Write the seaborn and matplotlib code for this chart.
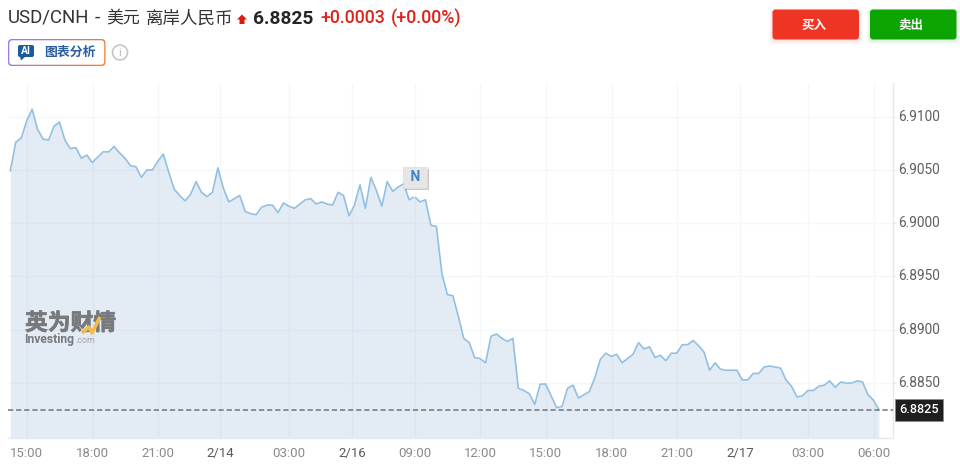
# USD/CNH intraday area chart with the page header around it
import numpy as np
import pandas as pd
import seaborn as sns
import matplotlib
matplotlib.use('Agg')
import matplotlib.pyplot as plt
import matplotlib.patheffects as pe
from matplotlib.patches import FancyBboxPatch, Circle, Polygon
from matplotlib.transforms import ScaledTranslation

# Prices
prices = [
    6.9049, 6.9076, 6.9080, 6.9096, 6.9107, 6.9088, 6.9079, 6.9078, 6.9091, 6.9095,
    6.9078, 6.9070, 6.9071, 6.9061, 6.9064, 6.9057, 6.9062, 6.9067, 6.9067, 6.9072,
    6.9066, 6.9061, 6.9054, 6.9053, 6.9043, 6.9050, 6.9050, 6.9058, 6.9065, 6.9048,
    6.9032, 6.9026, 6.9021, 6.9027, 6.9039, 6.9029, 6.9025, 6.9029, 6.9052, 6.9033,
    6.9020, 6.9023, 6.9026, 6.9011, 6.9009, 6.9008, 6.9015, 6.9017, 6.9017, 6.9010,
    6.9019, 6.9016, 6.9014, 6.9018, 6.9022, 6.9023, 6.9018, 6.9020, 6.9018, 6.9017,
    6.9029, 6.9026, 6.9007, 6.9017, 6.9036, 6.9014, 6.9043, 6.9031, 6.9016, 6.9039,
    6.9030, 6.9034, 6.9037, 6.9022, 6.9025, 6.9020, 6.9022, 6.8998, 6.8997, 6.8953,
    6.8933, 6.8932, 6.8913, 6.8892, 6.8888, 6.8874, 6.8873, 6.8869, 6.8894, 6.8896,
    6.8892, 6.8889, 6.8892, 6.8845, 6.8843, 6.8840, 6.8830, 6.8849, 6.8849, 6.8838,
    6.8827, 6.8828, 6.8845, 6.8848, 6.8836, 6.8839, 6.8842, 6.8855, 6.8872, 6.8878,
    6.8875, 6.8877, 6.8869, 6.8873, 6.8877, 6.8888, 6.8882, 6.8884, 6.8874, 6.8876,
    6.8871, 6.8878, 6.8878, 6.8886, 6.8886, 6.8890, 6.8885, 6.8879, 6.8862, 6.8869,
    6.8863, 6.8862, 6.8862, 6.8862, 6.8853, 6.8853, 6.8859, 6.8859, 6.8865, 6.8866,
    6.8865, 6.8864, 6.8853, 6.8847, 6.8837, 6.8838, 6.8843, 6.8843, 6.8847, 6.8848,
    6.8852, 6.8846, 6.8851, 6.8850, 6.8850, 6.8852, 6.8851, 6.8839, 6.8834, 6.8825,
]
x_ticks = [3.0, 15.08, 26.98, 38.39, 51.07, 62.6, 74.14, 86.0, 98.06, 110.14, 121.98, 133.57, 146.02, 158.1]
x_labels = ['15:00', '18:00', '21:00', '2/14', '03:00', '2/16', '09:00', '12:00',
            '15:00', '18:00', '21:00', '2/17', '03:00', '06:00']
date_labels = ['2/14', '2/16', '2/17']
y_ticks = [6.8850, 6.8900, 6.8950, 6.9000, 6.9050, 6.9100]
last_price = 6.8825
news_index = 74

df = pd.DataFrame({'i': np.arange(len(prices)), 'price': prices})

sns.set_theme(style='white')
plt.rcParams['font.family'] = ['Roboto', 'Noto Sans CJK SC', 'DejaVu Sans']

W, H = 960, 471
fig = plt.figure(figsize=(W / 100, H / 100), dpi=100, facecolor='white')

# Main chart
ax = fig.add_axes([8 / W, (H - 437.7) / H, 885 / W, (437.7 - 83) / H])
sns.lineplot(data=df, x='i', y='price', color='#93c0e0', linewidth=1.2, ax=ax, zorder=3)
ax.fill_between(df['i'], df['price'], 6.87, color=(68 / 255, 128 / 255, 182 / 255), alpha=0.15, lw=0, zorder=2)
ax.set_xlim(-0.42, 161.58)
ax.set_ylim(6.87987, 6.91316)
ax.set_xlabel('')
ax.set_ylabel('')

ax.set_xticks(x_ticks)
ax.set_xticklabels(x_labels)
ax.set_yticks(y_ticks)
ax.set_yticklabels([f'{v:.4f}' for v in y_ticks])
ax.yaxis.tick_right()
ax.grid(True, color='#f6f7f9', linewidth=1, zorder=1)
ax.tick_params(axis='x', length=0, pad=7, labelsize=9.5, labelcolor='#8a8a8a')
ax.tick_params(axis='y', length=2.5, width=0.8, color='#e6e8f0', pad=1.4, labelsize=9.9, labelcolor='#5f5f5f')
for lab in ax.get_xticklabels():
    if lab.get_text() in date_labels:
        lab.set_color('#5a5a5a')
lift = ScaledTranslation(0, 1.5 / 100, fig.dpi_scale_trans)
for lab in ax.get_yticklabels():
    lab.set_transform(lab.get_transform() + lift)

for side in ['top', 'left']:
    ax.spines[side].set_visible(False)
for side in ['right', 'bottom']:
    ax.spines[side].set_color('#e6e8f0')
    ax.spines[side].set_linewidth(1)

# Current price line and tag
ax.axhline(last_price, color='#6f7378', linewidth=1.1, dashes=(3.4, 1.9), zorder=4)
ax.annotate(f'{last_price:.4f}', xy=(1, last_price), xycoords=ax.get_yaxis_transform(),
            xytext=(4.3, 0), textcoords='offset points', va='center', ha='left',
            fontsize=9.2, fontweight='medium', color='white', annotation_clip=False,
            bbox=dict(boxstyle='square,pad=0.34', fc='#1f1f1f', ec='#8a8a8a', lw=0.5))

# News marker
news = ax.annotate(' N ', xy=(news_index, prices[news_index]), xytext=(0.5, 14), textcoords='offset points',
                   ha='center', va='center', fontsize=10, fontweight='bold', color='#3f86c8', zorder=6,
                   bbox=dict(boxstyle='square,pad=0.26', fc='#e6e6e6', ec='#dcdcdc', lw=0.5),
                   arrowprops=dict(arrowstyle='-', color='white', lw=1.4, shrinkA=0, shrinkB=0))
news.get_bbox_patch().set_path_effects([pe.withSimplePatchShadow(offset=(1.5, -1.5), shadow_rgbFace='#999999', alpha=0.5)])

# Page elements, drawn in pixel coordinates
ui = fig.add_axes([0, 0, 1, 1], facecolor='none', zorder=5)
ui.set_xlim(0, W)
ui.set_ylim(H, 0)
ui.axis('off')

cjk = ['Roboto', 'Noto Sans CJK SC', 'DejaVu Sans']
ui.text(8, 18, 'USD/CNH', fontsize=13.4, color='#333333', va='center', family=cjk)
ui.text(94.5, 18, '-', fontsize=13.4, color='#333333', va='center', family=cjk)
ui.text(106.5, 18, '美元', fontsize=12.2, color='#333333', va='center', family=cjk)
ui.text(146, 18, '离岸人民币', fontsize=12.6, color='#333333', va='center', family=cjk)
ui.add_patch(Polygon([(237, 19.5), (242, 14.5), (247, 19.5), (244.5, 19.5), (244.5, 24), (239.5, 24), (239.5, 19.5)],
                     fc='#dc1a10', ec='none'))
ui.text(253, 18.5, '6.8825', fontsize=13.8, fontweight='bold', color='#232526', va='center')
ui.text(320, 18, '+0.0003', fontsize=12.7, fontweight='medium', color='#dc2318', va='center')
ui.text(391, 18, '(+0.00%)', fontsize=12.9, fontweight='medium', color='#dc2318', va='center')

# AI button with gradient border
gx, gy = np.meshgrid(np.linspace(0, 1, 128), np.linspace(0, 1, 32))
grad = (0.8 * gx + 0.2 * gy)[:, :, None]
rgb = (1 - grad) * np.array([[[0.58, 0.48, 0.98]]]) + grad * np.array([[[1.0, 0.50, 0.10]]])
ui_img = ui.imshow(rgb, extent=(8, 105.5, 66, 39), aspect='auto', zorder=1)
ui_img.set_clip_path(FancyBboxPatch((8, 39), 97.5, 27, boxstyle='round,pad=0,rounding_size=4',
                                    transform=ui.transData))
ui.add_patch(FancyBboxPatch((9.3, 40.3), 94.9, 24.4, boxstyle='round,pad=0,rounding_size=3', fc='white', ec='none', zorder=2))
ui.set_xlim(0, W)
ui.set_ylim(H, 0)
ui.add_patch(FancyBboxPatch((18, 45), 16, 12, boxstyle='round,pad=0,rounding_size=2', fc='#1c5a9e', ec='none', zorder=3))
ui.add_patch(Polygon([(20, 56.5), (25.5, 56.5), (21, 60.5)], fc='#1c5a9e', ec='none', zorder=3))
ui.text(26, 51, 'AI', fontsize=7.5, fontweight='bold', color='white', ha='center', va='center', zorder=4)
ui.text(44, 52.5, '图表分析', fontsize=9.3, fontweight='bold', color='#2a5f9e', va='center', family=cjk, zorder=4)
ui.add_patch(Circle((120, 52.5), 7.5, fc='white', ec='#c6c6c6', lw=1.2))
ui.text(120, 52.5, 'i', fontsize=8, color='#b5b5b5', ha='center', va='center')

# Buy and sell buttons, with a soft shadow
for x0, w, col, label in [(772.5, 86.5, '#ee3524', '买入'), (870, 86.5, '#0ca400', '卖出')]:
    for grow, a in [(3.5, 0.03), (2.2, 0.04), (1, 0.05)]:
        ui.add_patch(FancyBboxPatch((x0 - grow, 9.5 - grow + 1.5), w + 2 * grow, 30 + 2 * grow,
                                    boxstyle='round,pad=0,rounding_size=4', fc=col, ec='none', alpha=a))
    ui.add_patch(FancyBboxPatch((x0, 9.5), w, 30, boxstyle='round,pad=0,rounding_size=3', fc=col, ec='none'))
    ui.text(x0 + w / 2 - 2, 25, label, fontsize=9, fontweight='bold', color='white',
            ha='center', va='center', family=cjk)

# Watermark
ui.text(25, 323.5, '英为财情', fontsize=16.4, fontweight='bold', color='#77797d', va='center', family=cjk,
        path_effects=[pe.withStroke(linewidth=0.5, foreground='#77797d')])
ui.plot([82, 89, 92, 100], [333, 327, 333, 317], color='#f2bd4b', lw=2.6, solid_capstyle='butt', zorder=5)
ui.text(24, 340, 'Investing', fontsize=8.7, fontweight='bold', color='#77797d', va='center')
ui.text(75.5, 340.5, '.com', fontsize=6.4, color='#a3a5a8', va='center')

fig.savefig('out.png', dpi=100)
